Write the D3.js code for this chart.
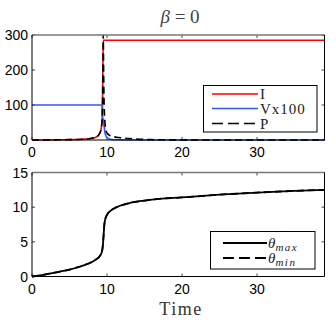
<!DOCTYPE html>
<html><head><meta charset="utf-8">
<script src="https://cdn.jsdelivr.net/npm/d3@7"></script>
<style>body{margin:0;background:#fff}svg{display:block}</style>
</head><body>
<script>
// ---- data ----
const timeTop = [0,1,2,3,4,5,6,7,7.5,8,8.5,8.8,9.0,9.2,9.3,9.35,9.4,9.45,9.5,9.55,9.6,9.7,9.8,10,10.3,10.6,11,11.5,12,13,14,16,20,25,30,35,39];
const seriesI = [0,0.1,0.2,0.4,0.7,1,1.5,2.5,3.5,5,8,12,18,30,45,60,100,200,285,285,285,285,285,285,285,285,285,285,285,285,285,285,285,285,285,285,285];
const seriesV = [100,100,100,100,100,100,100,100,100,100,100,100,100,100,100,100,70,62,58,50,42,25,15,7,3,1.5,0.8,0.5,0.3,0.1,0,0,0,0,0,0,0];
const seriesP = [0,0.1,0.2,0.4,0.7,1,1.5,2.5,3.5,5,8,12,18,30,45,60,100,200,300,200,120,60,35,20,14,11,9,7,6,4,2.5,1,0.3,0,0,0,0];
const timeBot = [0,1,2,3,4,5,6,7,8,8.6,9,9.3,9.45,9.55,9.65,9.8,10,10.5,11,12,13,15,17,20,25,30,35,39];
const thetaMax = [0,0.15,0.35,0.55,0.78,1.0,1.3,1.65,2.1,2.5,2.9,3.5,4.5,6.0,7.5,8.4,8.9,9.5,9.85,10.3,10.6,10.95,11.2,11.4,11.8,12.1,12.35,12.5];
const thetaMin = thetaMax.slice();
const xTicks = [0,10,20,30];
const yTicksTop = [0,100,200,300];
const yTicksBot = [0,5,10,15];

const W=336,H=323;
const svg=d3.select("body").append("svg").attr("width",W).attr("height",H);
const L=32,R=324.5;
const x=d3.scaleLinear().domain([0,39]).range([L,R]);

function panel(top,bottom,ydom,yt){
  const y=d3.scaleLinear().domain(ydom).range([bottom,top]);
  const g=svg.append("g");
  const tl=3;
  xTicks.forEach(t=>{
    g.append("line").attr("x1",x(t)).attr("x2",x(t)).attr("y1",bottom).attr("y2",bottom-tl).attr("stroke","#444");
    g.append("line").attr("x1",x(t)).attr("x2",x(t)).attr("y1",top).attr("y2",top+tl).attr("stroke","#444");
  });
  yt.forEach(t=>{
    g.append("line").attr("x1",L).attr("x2",L+tl).attr("y1",y(t)).attr("y2",y(t)).attr("stroke","#444");
    g.append("line").attr("x1",R).attr("x2",R-tl).attr("y1",y(t)).attr("y2",y(t)).attr("stroke","#444");
  });
  g.selectAll(".xl").data(xTicks).enter().append("text")
    .attr("x",d=>x(d)).attr("y",bottom+17).attr("text-anchor","middle")
    .attr("font-family","Liberation Sans, Arial, sans-serif").attr("font-size",14).text(d=>d);
  g.selectAll(".yl").data(yt).enter().append("text")
    .attr("x",L-4).attr("y",d=>y(d)+5).attr("text-anchor","end")
    .attr("font-family","Liberation Sans, Arial, sans-serif").attr("font-size",14).text(d=>d);
  return {g,y};
}

function frame(top,bottom){
  svg.append("line").attr("x1",L).attr("x2",R).attr("y1",top).attr("y2",top).attr("stroke","#777").attr("stroke-width",1.3);
  svg.append("line").attr("x1",L).attr("x2",R).attr("y1",bottom).attr("y2",bottom).attr("stroke","#000");
  svg.append("line").attr("x1",L).attr("x2",L).attr("y1",top).attr("y2",bottom).attr("stroke","#000");
  svg.append("line").attr("x1",R).attr("x2",R).attr("y1",top).attr("y2",bottom).attr("stroke","#000");
}

// ---- top panel ----
const pt=panel(35,140,[0,300],yTicksTop);
const lineT=(vals)=>d3.line().x((d,i)=>x(timeTop[i])).y(d=>pt.y(d)).curve(d3.curveMonotoneX)(vals);
svg.append("path").attr("d",lineT(seriesI)).attr("fill","none").attr("stroke","#ff0000").attr("stroke-width",1.6);
svg.append("path").attr("d",lineT(seriesV)).attr("fill","none").attr("stroke","#3355ff").attr("stroke-width",1.6);
svg.append("path").attr("d",lineT(seriesP)).attr("fill","none").attr("stroke","#000").attr("stroke-width",1.6).attr("stroke-dasharray","7,4");
frame(35,140);

// title
svg.append("text").attr("x",180).attr("y",23).attr("text-anchor","middle")
  .attr("font-family","Liberation Serif, DejaVu Serif, serif").attr("font-size",19).attr("fill","#444")
  .html('<tspan font-style="italic">β</tspan> = 0');

// legend top
const lg=svg.append("g");
lg.append("rect").attr("x",203.5).attr("y",85.5).attr("width",113.5).attr("height",46.5).attr("fill","#fff").attr("stroke","#000");
const topLeg=[{c:"#ff0000",d:null,t:"I",yy:94},{c:"#3355ff",d:null,t:"Vx100",yy:108.5},{c:"#000",d:"11,5",t:"P",yy:123.5}];
topLeg.forEach(e=>{
  lg.append("line").attr("x1",212).attr("x2",258).attr("y1",e.yy).attr("y2",e.yy).attr("stroke",e.c).attr("stroke-width",1.6).attr("stroke-dasharray",e.d);
  lg.append("text").attr("x",260).attr("y",e.yy+5).attr("font-family","Liberation Serif, DejaVu Serif, serif").attr("font-size",15).attr("fill","#222").attr("letter-spacing",1).text(e.t);
});

// ---- bottom panel ----
const pb=panel(172.5,276.5,[0,15],yTicksBot);
const lineB=(vals)=>d3.line().x((d,i)=>x(timeBot[i])).y(d=>pb.y(d)).curve(d3.curveMonotoneX)(vals);
svg.append("path").attr("d",lineB(thetaMin)).attr("fill","none").attr("stroke","#000").attr("stroke-width",1.8).attr("stroke-dasharray","7,4");
svg.append("path").attr("d",lineB(thetaMax)).attr("fill","none").attr("stroke","#000").attr("stroke-width",1.8);
frame(172.5,276.5);

// legend bottom
const lb=svg.append("g");
lb.append("rect").attr("x",210.5).attr("y",231.5).attr("width",104.5).attr("height",37.5).attr("fill","#fff").attr("stroke","#000");
const botLeg=[{d:null,s:"max",yy:243},{d:"11,5",s:"min",yy:258}];
botLeg.forEach(e=>{
  lb.append("line").attr("x1",223).attr("x2",267).attr("y1",e.yy).attr("y2",e.yy).attr("stroke","#000").attr("stroke-width",1.8).attr("stroke-dasharray",e.d);
  lb.append("text").attr("x",268).attr("y",e.yy+5).attr("font-family","Liberation Serif, DejaVu Serif, serif").attr("font-size",15).attr("fill","#222")
    .html('<tspan font-style="italic">θ</tspan><tspan font-style="italic" font-size="11" dy="3" letter-spacing="1.5">'+e.s+'</tspan>');
});

// x label
svg.append("text").attr("x",181).attr("y",315).attr("text-anchor","middle")
  .attr("font-family","Liberation Serif, DejaVu Serif, serif").attr("font-size",18).attr("fill","#333").attr("letter-spacing",1.5).text("Time");
</script>
</body></html>
